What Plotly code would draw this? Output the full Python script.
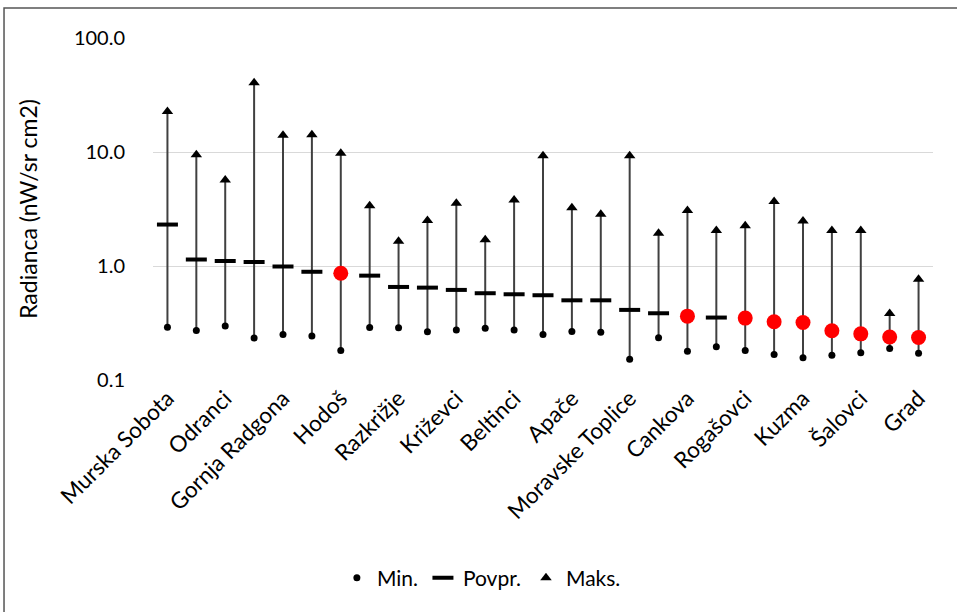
import plotly.graph_objects as go

categories = ["Murska Sobota", "Lendava", "Odranci", "Ljutomer", "Gornja Radgona", "Radenci",
              "Hodoš", "Turnišče", "Razkrižje", "Črenšovci", "Križevci", "Veržej", "Beltinci",
              "Tišina", "Apače", "Puconci", "Moravske Toplice", "Velika Polana", "Cankova",
              "Dobrovnik", "Rogašovci", "Sveti Jurij ob Ščavnici", "Kuzma", "Kobilje", "Šalovci",
              "Gornji Petrovci", "Grad"]
labeled = ["Murska Sobota", "Odranci", "Gornja Radgona", "Hodoš", "Razkrižje", "Križevci",
           "Beltinci", "Apače", "Moravske Toplice", "Cankova", "Rogašovci", "Kuzma", "Šalovci", "Grad"]
mins = [0.29, 0.272, 0.297, 0.233, 0.251, 0.243, 0.181, 0.289, 0.287, 0.265, 0.274, 0.285, 0.274,
        0.251, 0.267, 0.263, 0.152, 0.235, 0.179, 0.196, 0.181, 0.167, 0.157, 0.165, 0.173, 0.189, 0.172]
avgs = [2.31, 1.14, 1.106, 1.084, 0.99, 0.89, 0.863, 0.823, 0.655, 0.646, 0.617, 0.577, 0.565,
        0.554, 0.50, 0.50, 0.412, 0.385, 0.363, 0.353, 0.349, 0.324, 0.319, 0.27, 0.254, 0.238, 0.236]
maxs = [22.7, 9.48, 5.69, 40.4, 14.0, 14.2, 9.73, 3.37, 1.65, 2.51, 3.56, 1.70, 3.80,
        9.29, 3.24, 2.85, 9.29, 1.94, 3.07, 2.05, 2.25, 3.68, 2.48, 2.05, 2.05, 0.383, 0.764]
highlighted = [False, False, False, False, False, False, True, False, False, False, False, False, False,
               False, False, False, False, False, True, False, True, True, True, True, True, True, True]
y_ticks = [0.1, 1, 10, 100]
y_ticktext = ["0.1", "1.0", "10.0", "100.0"]

FONT = "Lato"

# high-low lines
lx, ly = [], []
for c, lo, hi in zip(categories, mins, maxs):
    lx += [c, c, None]
    ly += [lo, hi, None]

fig = go.Figure()
fig.add_trace(go.Scatter(x=lx, y=ly, mode="lines", line=dict(color="#404040", width=2),
                         showlegend=False, hoverinfo="skip"))
fig.add_trace(go.Scatter(x=categories, y=mins, mode="markers", name="Min.",
                         marker=dict(symbol="circle", size=7, color="black")))
fig.add_trace(go.Scatter(x=[c for c, h in zip(categories, highlighted) if not h],
                         y=[a for a, h in zip(avgs, highlighted) if not h],
                         mode="markers", name="Povpr.",
                         marker=dict(symbol="line-ew", size=15, color="black",
                                     line=dict(color="black", width=4))))
fig.add_trace(go.Scatter(x=[c for c, h in zip(categories, highlighted) if h],
                         y=[a for a, h in zip(avgs, highlighted) if h],
                         mode="markers", name="Povpr.", showlegend=False,
                         marker=dict(symbol="circle", size=15, color="#ff0000")))
fig.add_trace(go.Scatter(x=categories, y=maxs, mode="markers", name="Maks.",
                         marker=dict(symbol="triangle-up", size=10, color="black")))

fig.update_layout(
    width=957, height=612,
    margin=dict(l=153, r=24, t=38, b=232, autoexpand=False),
    paper_bgcolor="white", plot_bgcolor="white",
    font=dict(family=FONT, size=21, color="black"),
    legend=dict(orientation="h", x=0.421, xanchor="center", y=-0.579, yanchor="middle",
                font=dict(family=FONT, size=21, color="black"), itemwidth=30,
                bgcolor="rgba(0,0,0,0)"),
    xaxis=dict(type="category", categoryorder="array", categoryarray=categories,
               range=[-0.5, len(categories) - 0.5],
               tickmode="array", tickvals=labeled, ticktext=labeled, tickangle=-45,
               showgrid=False, zeroline=False, showline=False, ticks="", automargin=False,
               tickfont=dict(family=FONT, size=22.5, color="black")),
    yaxis=dict(type="log", range=[-1, 2], tickmode="array", tickvals=y_ticks, ticktext=y_ticktext,
               showgrid=True, gridcolor="#d9d9d9", gridwidth=1.2, zeroline=False, showline=False,
               ticks="", ticklabelstandoff=27, automargin=False,
               tickfont=dict(family=FONT, size=20, color="black"),
               title=dict(text="Radianca (nW/sr cm2)", standoff=29,
                          font=dict(family=FONT, size=23, color="black"))),
    shapes=[dict(type="rect", xref="paper", yref="paper",
                 x0=-0.191, x1=1.04, y0=-0.70, y1=1.0877,
                 line=dict(color="#555555", width=1.5), fillcolor="rgba(0,0,0,0)", layer="above")],
)

fig.write_html("out.html", config={"displayModeBar": False},
               post_script="document.body.style.margin='0';document.body.style.overflow='hidden';")
